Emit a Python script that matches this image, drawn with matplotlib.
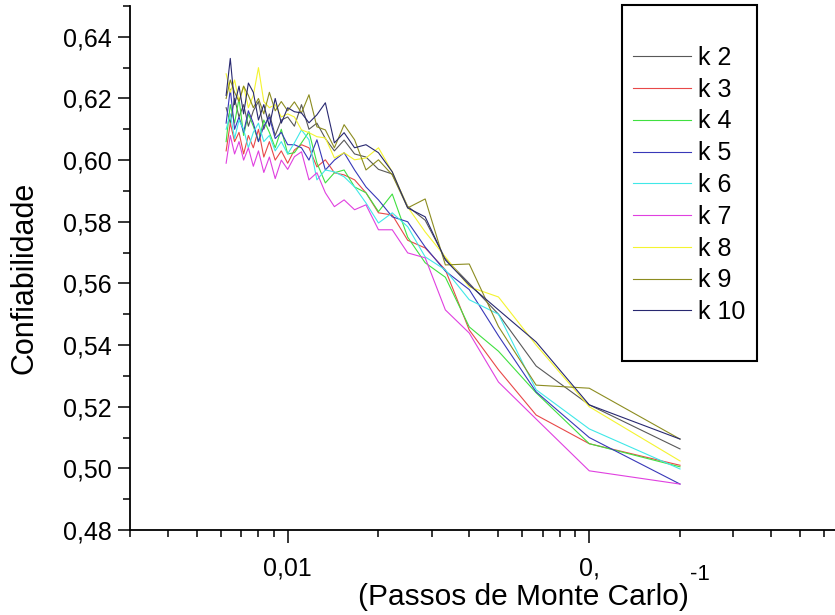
import matplotlib
matplotlib.use("Agg")
import matplotlib.pyplot as plt
import numpy as np
from matplotlib.ticker import FixedLocator, FixedFormatter, LogLocator, NullFormatter, MultipleLocator, FuncFormatter
from matplotlib.patches import Rectangle

plt.rcParams['font.family'] = ['Liberation Sans', 'DejaVu Sans']

# Monte Carlo steps (x = 1/steps)
steps = [160, 155, 150, 145, 140, 135, 130, 125, 120, 115, 110, 105, 100, 95, 90, 85,
         80, 75, 70, 65, 60, 55, 50, 45, 40, 35, 30, 25, 20, 15, 10, 5]

k2 = [0.617, 0.612, 0.620, 0.614, 0.618, 0.611, 0.616, 0.619, 0.610, 0.615, 0.608, 0.613,
      0.614, 0.611, 0.618, 0.610, 0.612, 0.607, 0.603, 0.6065, 0.602, 0.601, 0.597, 0.5955,
      0.585, 0.5805, 0.568, 0.560, 0.550, 0.5332, 0.5206, 0.5063]
k3 = [0.603, 0.612, 0.606, 0.609, 0.602, 0.608, 0.604, 0.610, 0.601, 0.606, 0.600, 0.603,
      0.599, 0.6033, 0.605, 0.604, 0.5978, 0.6001, 0.5959, 0.5952, 0.5936, 0.5894, 0.5829, 0.5822,
      0.574, 0.5715, 0.5644, 0.5449, 0.532, 0.5173, 0.508, 0.501]
k4 = [0.606, 0.618, 0.612, 0.620, 0.608, 0.615, 0.611, 0.606, 0.613, 0.609, 0.604, 0.610,
      0.602, 0.6024, 0.6056, 0.6092, 0.5991, 0.5926, 0.5959, 0.5968, 0.5913, 0.5894, 0.5833, 0.589,
      0.575, 0.5667, 0.562, 0.5459, 0.538, 0.5245, 0.508, 0.5005]
k5 = [0.612, 0.623, 0.610, 0.614, 0.609, 0.616, 0.612, 0.606, 0.611, 0.614, 0.607, 0.609,
      0.605, 0.605, 0.604, 0.600, 0.6066, 0.5968, 0.600, 0.6024, 0.5968, 0.5913, 0.5871, 0.5816,
      0.580, 0.5718, 0.564, 0.558, 0.543, 0.5248, 0.510, 0.4949]
k6 = [0.610, 0.615, 0.607, 0.613, 0.610, 0.604, 0.609, 0.612, 0.606, 0.608, 0.603, 0.606,
      0.602, 0.6056, 0.6098, 0.6066, 0.5936, 0.5968, 0.5962, 0.5946, 0.5913, 0.5861, 0.5796, 0.5829,
      0.5784, 0.5686, 0.5644, 0.5547, 0.550, 0.5255, 0.5128, 0.4998]
k7 = [0.599, 0.608, 0.602, 0.606, 0.600, 0.604, 0.598, 0.603, 0.596, 0.601, 0.594, 0.600,
      0.597, 0.6011, 0.6027, 0.5936, 0.5959, 0.5894, 0.5849, 0.5871, 0.5839, 0.5855, 0.5774, 0.5774,
      0.5699, 0.5683, 0.5514, 0.5439, 0.528, 0.516, 0.4992, 0.4949]
k8 = [0.628, 0.622, 0.626, 0.619, 0.624, 0.617, 0.621, 0.630, 0.619, 0.617, 0.618, 0.614,
      0.615, 0.614, 0.6098, 0.6089, 0.6076, 0.6072, 0.6007, 0.6024, 0.6001, 0.6007, 0.604, 0.5962,
      0.5848, 0.5767, 0.5686, 0.5589, 0.5556, 0.540, 0.520, 0.5024]
k9 = [0.620, 0.626, 0.622, 0.619, 0.624, 0.621, 0.617, 0.620, 0.615, 0.622, 0.616, 0.619,
      0.616, 0.6189, 0.6153, 0.6212, 0.6108, 0.6098, 0.604, 0.6115, 0.6066, 0.5968, 0.6001, 0.5952,
      0.5845, 0.5874, 0.566, 0.5663, 0.546, 0.527, 0.526, 0.5095]
k10 = [0.621, 0.633, 0.618, 0.624, 0.615, 0.625, 0.622, 0.613, 0.618, 0.611, 0.620, 0.612,
       0.617, 0.6157, 0.6153, 0.6121, 0.6147, 0.6186, 0.6056, 0.6089, 0.604, 0.605, 0.6024, 0.5962,
       0.5845, 0.5816, 0.5676, 0.5595, 0.5514, 0.541, 0.5206, 0.5095]

labels = ['k 2', 'k 3', 'k 4', 'k 5', 'k 6', 'k 7', 'k 8', 'k 9', 'k 10']
series = [k2, k3, k4, k5, k6, k7, k8, k9, k10]
colors = ['#585858', '#e84848', '#40e040', '#3838b8', '#40e8e8', '#e040e0', '#f4f430', '#8c8c20', '#282870']

x_ticks = [0.01, 0.1]
x_ticklabels = ['0,01', '0,']
y_ticks = [0.48, 0.50, 0.52, 0.54, 0.56, 0.58, 0.60, 0.62, 0.64]

W, H = 835, 615
fig = plt.figure(figsize=(W / 100, H / 100), dpi=100)
ax = fig.add_axes([130 / W, 85 / H, (W - 130) / W, (530 - 6) / H])

x = 1.0 / np.array(steps, dtype=float)
for vals, lab, col in zip(series, labels, colors):
    ax.plot(x, vals, color=col, lw=0.8, label=lab)

ax.set_xscale('log')
ax.set_xlim(0.003, 0.653)
ax.set_ylim(0.48, 0.65)

ax.xaxis.set_major_locator(FixedLocator(x_ticks))
ax.xaxis.set_major_formatter(FixedFormatter(x_ticklabels))
ax.xaxis.set_minor_locator(LogLocator(base=10, subs=np.arange(2, 10), numticks=20))
ax.xaxis.set_minor_formatter(NullFormatter())

ax.yaxis.set_major_locator(FixedLocator(y_ticks))
ax.yaxis.set_major_formatter(FuncFormatter(lambda v, p: f'{v:.2f}'.replace('.', ',')))
ax.yaxis.set_minor_locator(MultipleLocator(0.01))

for s in ['top', 'right']:
    ax.spines[s].set_visible(False)
for s in ['left', 'bottom']:
    ax.spines[s].set_linewidth(1.3)
ax.tick_params(which='major', direction='out', length=9, width=1.1, labelsize=18, pad=4)
ax.tick_params(which='minor', direction='out', length=5, width=1.1)
ax.tick_params(axis='x', which='major', pad=10)

fig.text(523 / W, 1 - 597 / H, '(Passos de Monte Carlo)', ha='center', va='center', fontsize=21.5)
fig.text(690 / W, 1 - 575 / H, '-1', ha='left', va='center', fontsize=16)
fig.text(25 / W, 1 - 278 / H, 'Confiabilidade', ha='center', va='center', rotation=90, fontsize=22)

# legend box
fig.patches.append(Rectangle((622 / W, 1 - 361 / H), (757 - 622) / W, (361 - 5) / H,
                             transform=fig.transFigure, fill=False, edgecolor='black', lw=1.5))
leg = ax.legend(loc='upper left', bbox_to_anchor=(633 / W, 1 - 46 / H), bbox_transform=fig.transFigure,
                frameon=False, fontsize=18, handlelength=2.3, handletextpad=0.3, labelspacing=0.31,
                borderpad=0, borderaxespad=0)

fig.savefig('out.png', dpi=100)
